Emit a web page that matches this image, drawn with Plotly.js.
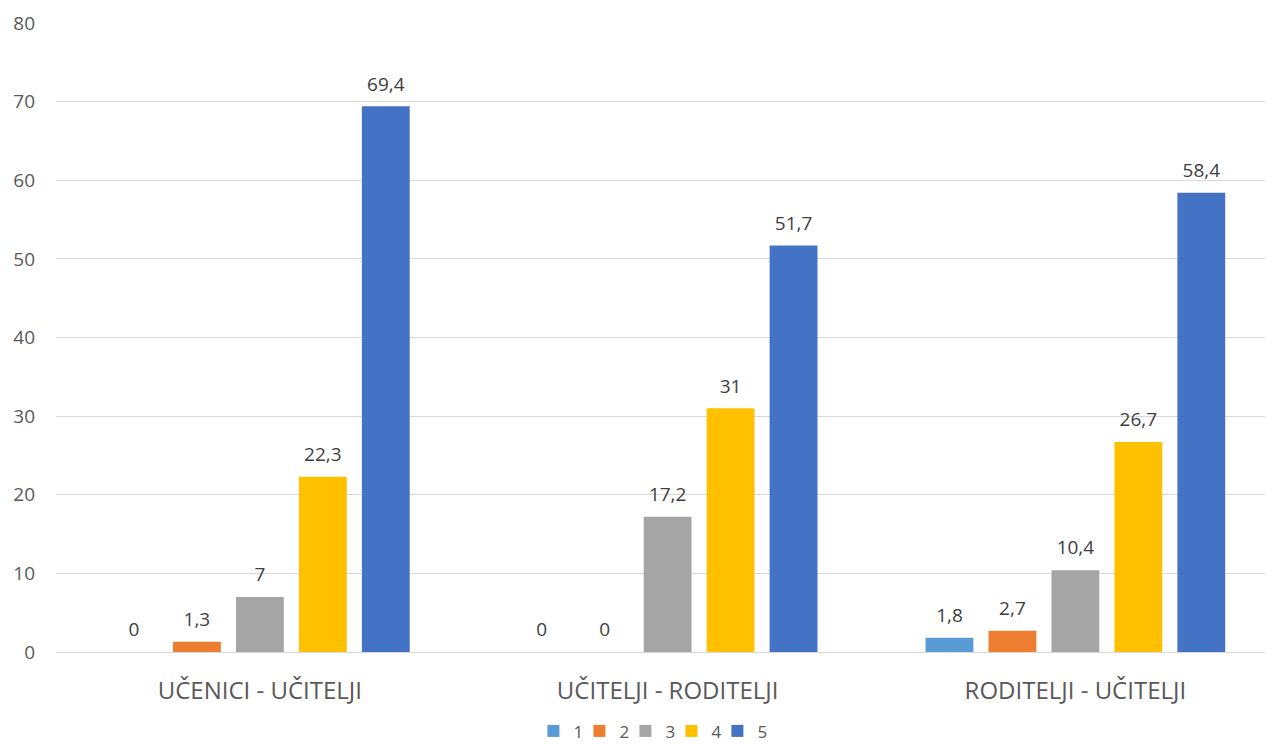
<!DOCTYPE html>
<html>
<head>
<meta charset="utf-8">
<script src="https://cdn.plot.ly/plotly-3.0.1.min.js"></script>
<style>html,body{margin:0;padding:0;background:#fff;}#chart{width:1273px;height:744px;}</style>
</head>
<body>
<div id="chart"></div>
<script>
const categories = ['UČENICI - UČITELJI', 'UČITELJI - RODITELJI', 'RODITELJI - UČITELJI'];
const seriesNames = ['1', '2', '3', '4', '5'];
const s1 = [0, 0, 1.8];
const s2 = [1.3, 0, 2.7];
const s3 = [7, 17.2, 10.4];
const s4 = [22.3, 31, 26.7];
const s5 = [69.4, 51.7, 58.4];
const colors = ['#5B9BD5', '#ED7D31', '#A5A5A5', '#FFC000', '#4472C4'];
const yTicks = [0, 10, 20, 30, 40, 50, 60, 70, 80];

const all = [s1, s2, s3, s4, s5];
const GAP = 0.228;
const barTraces = all.map((vals, i) => ({
  type: 'bar',
  name: seriesNames[i],
  x: categories,
  y: vals,
  offsetgroup: seriesNames[i],
  marker: {color: colors[i]},
  hoverinfo: 'skip'
}));
const labelTraces = all.map((vals, i) => ({
  type: 'scatter',
  mode: 'markers+text',
  name: seriesNames[i],
  showlegend: false,
  x: categories,
  y: vals,
  offsetgroup: seriesNames[i],
  marker: {size: 16, opacity: 0, color: colors[i]},
  text: vals.map(v => String(v).replace('.', ',')),
  textposition: 'top center',
  textfont: {family: 'Open Sans, sans-serif', size: 19, color: '#404040'},
  cliponaxis: false,
  hoverinfo: 'skip'
}));

const layout = {
  width: 1273, height: 744,
  margin: {l: 56, r: 8, t: 23, b: 92, autoexpand: false},
  paper_bgcolor: '#fff', plot_bgcolor: '#fff',
  barmode: 'group',
  bargap: GAP,
  bargroupgap: 0.24,
  scattermode: 'group',
  scattergap: GAP,
  font: {family: 'Open Sans, sans-serif', color: '#595959'},
  xaxis: {
    range: [-0.5, 2.465],
    showgrid: false, zeroline: false, showline: false,
    ticks: '',
    ticklabelstandoff: 22,
    tickfont: {size: 24, color: '#595959'},
    automargin: false
  },
  yaxis: {
    range: [0, 80],
    tickvals: yTicks,
    showgrid: true, gridcolor: '#D9D9D9', gridwidth: 1,
    zeroline: true, zerolinecolor: '#D9D9D9', zerolinewidth: 1,
    showline: false, ticks: '',
    ticklabelstandoff: 20,
    tickfont: {size: 19, color: '#595959'},
    automargin: false
  },
  showlegend: true,
  legend: {
    orientation: 'h', x: 0.49, xanchor: 'center',
    yref: 'container', y: 0.017, yanchor: 'middle',
    font: {size: 17, color: '#595959'},
    itemwidth: 30, entrywidth: 1, entrywidthmode: 'pixels',
    traceorder: 'normal'
  }
};

Plotly.newPlot('chart', barTraces.concat(labelTraces), layout, {displayModeBar: false, staticPlot: true}).then(function (gd) {
  gd.querySelectorAll('.legend .scrollbox, .legend').forEach(function (el) { el.removeAttribute('clip-path'); });
});
</script>
</body>
</html>
